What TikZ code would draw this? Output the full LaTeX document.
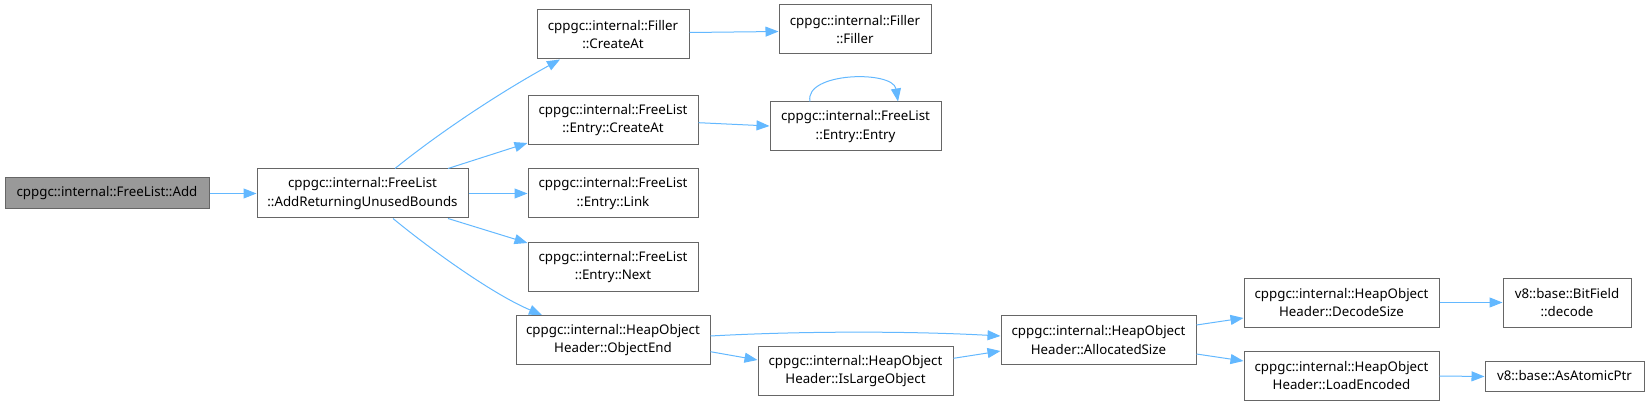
\documentclass[tikz,border=0pt]{standalone}
\usepackage{fontspec}
\setmainfont{Noto Sans}
\usetikzlibrary{arrows.meta}
\definecolor{edgeblue}{HTML}{63B8FF}
\definecolor{boxborder}{HTML}{666666}
\definecolor{rootfill}{HTML}{999999}
\begin{document}
\begin{tikzpicture}[x=1pt,y=-1pt,
  box/.style={draw=boxborder,line width=1pt,fill=white,inner sep=0pt,align=center,
    font=\fontsize{13.3}{18.3}\selectfont,text=black},
  two/.style={minimum height=49pt},
  one/.style={minimum height=31pt},
  edge/.style={draw=edgeblue,line width=1pt,-{Triangle[length=13pt,width=10pt]}}]
\useasboundingbox (0,0) rectangle (1649,406);
\node[box,one,fill=rootfill,minimum width=204pt] (add) at (107,193.5) {cppgc::internal::FreeList::Add};
\node[box,two,minimum width=211pt] (ret) at (362.5,193.5) {cppgc::internal::FreeList\\::AddReturningUnusedBounds};
\node[box,two,minimum width=152pt] (fca) at (613,34.5) {cppgc::internal::Filler\\::CreateAt};
\node[box,two,minimum width=152pt] (ffl) at (855,29.5) {cppgc::internal::Filler\\::Filler};
\node[box,two,minimum width=170pt] (eca) at (613,120) {cppgc::internal::FreeList\\::Entry::CreateAt};
\node[box,two,minimum width=171pt] (een) at (855.5,126.5) {cppgc::internal::FreeList\\::Entry::Entry};
\node[box,two,minimum width=170pt] (elk) at (613,193.5) {cppgc::internal::FreeList\\::Entry::Link};
\node[box,two,minimum width=170pt] (enx) at (613,267) {cppgc::internal::FreeList\\::Entry::Next};
\node[box,two,minimum width=194pt] (oen) at (613,340) {cppgc::internal::HeapObject\\Header::ObjectEnd};
\node[box,two,minimum width=195pt] (ilo) at (855.5,371) {cppgc::internal::HeapObject\\Header::IsLargeObject};
\node[box,two,minimum width=195pt] (asz) at (1098.5,340) {cppgc::internal::HeapObject\\Header::AllocatedSize};
\node[box,two,minimum width=195pt] (dsz) at (1341.5,302.5) {cppgc::internal::HeapObject\\Header::DecodeSize};
\node[box,two,minimum width=195pt] (ldn) at (1341.5,375.5) {cppgc::internal::HeapObject\\Header::LoadEncoded};
\node[box,two,minimum width=128pt] (bfd) at (1567,302.5) {v8::base::BitField\\::decode};
\node[box,minimum height=30pt,minimum width=159pt] (aap) at (1564.5,376) {v8::base::AsAtomicPtr};

\draw[edge] (add.east) -- (ret.west);
\draw[edge] ([xshift=32.5pt]ret.north) .. controls (430,140) and (490,98) .. ([xshift=-53pt]fca.south);
\draw[edge] ([xshift=85.5pt]ret.north) -- ([yshift=2pt]eca.south west);
\draw[edge] (ret.east) -- (elk.west);
\draw[edge] ([xshift=85.5pt]ret.south) -- ([yshift=-1pt]enx.north west);
\draw[edge] ([xshift=30.5pt]ret.south) .. controls (425,245) and (490,293) .. ([xshift=-71pt]oen.north);
\draw[edge] ([yshift=2pt]fca.east) -- ([yshift=-2pt]ffl.west);
\draw[edge] ([yshift=-2.7pt]eca.east) -- ([yshift=0.5pt]een.west);
\draw[edge] ([xshift=-45.5pt]een.north) .. controls (804,72) and (893,70) .. ([xshift=42.5pt]een.north);
\draw[edge] ([yshift=4pt]oen.east) .. controls (800,331) and (910,331) .. ([yshift=4pt]asz.west);
\draw[edge] ([yshift=-11.7pt]oen.east) -- ([yshift=11pt]ilo.west);
\draw[edge] ([yshift=12.7pt]ilo.east) -- ([yshift=-11pt]asz.west);
\draw[edge] ([yshift=15pt]asz.east) -- ([yshift=-15.5pt]dsz.west);
\draw[edge] ([yshift=-14pt]asz.east) -- ([yshift=14.5pt]ldn.west);
\draw[edge] (dsz.east) -- (bfd.west);
\draw[edge] ([yshift=-0.5pt]ldn.east) -- ([yshift=-0.5pt]aap.west);
\end{tikzpicture}
\end{document}
